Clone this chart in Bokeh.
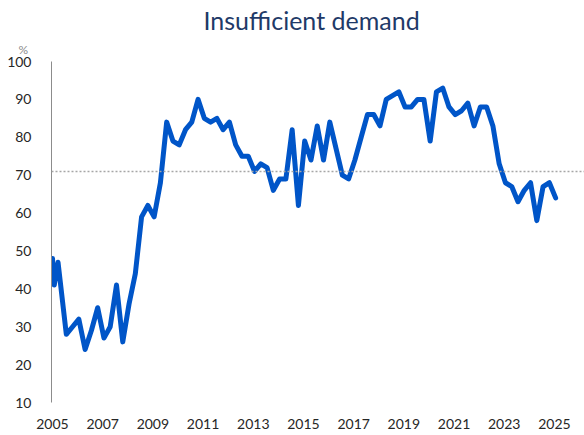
from bokeh.plotting import figure
from bokeh.models import Range1d, Span, Title, FixedTicker
from bokeh.embed import file_html
from bokeh.resources import INLINE

# --- data ---
title_text = "Insufficient demand"
unit_text = "%"
start_years = [2005.0, 2005.07, 2005.22]
start_values = [48, 41, 47]
quarterly_values = [
    28, 30, 32, 24, 29, 35, 27, 30, 41, 26, 36, 44, 59, 62, 59, 68,
    84, 79, 78, 82, 84, 90, 85, 84, 85, 82, 84, 78, 75, 75, 71, 73,
    72, 66, 69, 69, 82, 62, 79, 74, 83, 74, 84, 77, 70, 69, 74, 80,
    86, 86, 83, 90, 91, 92, 88, 88, 90, 90, 79, 92, 93, 88, 86, 87,
    89, 83, 88, 88, 83, 73, 68, 67, 63, 66, 68, 58, 67, 68, 64,
]
quarterly_start = 2005.55
reference_level = 71
x_ticks = [2005, 2007, 2009, 2011, 2013, 2015, 2017, 2019, 2021, 2023, 2025]
y_ticks = [10, 20, 30, 40, 50, 60, 70, 80, 90, 100]

quarter_years = [quarterly_start + 0.25 * i for i in range(len(quarterly_values))]
years = start_years + quarter_years
values = start_values + quarterly_values

p = figure(
    width=584, height=435,
    x_range=Range1d(2004.96, 2026.2), y_range=Range1d(10, 100),
    output_backend="svg", toolbar_location=None, title=None,
    min_border_left=51, min_border_right=0, min_border_top=61, min_border_bottom=33,
)
p.outline_line_color = None
p.grid.visible = False
p.background_fill_color = "white"
p.border_fill_color = "white"

# unit label (closest to the frame) and main title
p.add_layout(Title(text=unit_text, align="left", offset=-33, standoff=10,
                   text_font="Lato", text_font_size="12px",
                   text_font_style="normal", text_color="#8C8C8C"), "above")
p.add_layout(Title(text=title_text, align="left", offset=152, standoff=0,
                   text_font="Lato", text_font_size="25px",
                   text_font_style="normal", text_color="#1F3A68"), "above")

# axes
p.xaxis.ticker = FixedTicker(ticks=x_ticks)
p.xaxis.axis_line_color = None
p.xaxis.major_tick_line_color = None
p.xaxis.minor_tick_line_color = None
p.xaxis.major_label_text_font = "Lato"
p.xaxis.major_label_text_font_size = "14px"
p.xaxis.major_label_text_color = "#262626"
p.xaxis.major_label_standoff = 10

p.yaxis.ticker = FixedTicker(ticks=y_ticks)
p.yaxis.axis_line_color = "#8C8C8C"
p.yaxis.axis_line_width = 1
p.yaxis.major_tick_line_color = None
p.yaxis.minor_tick_line_color = None
p.yaxis.major_label_text_font = "Lato"
p.yaxis.major_label_text_font_size = "14px"
p.yaxis.major_label_text_color = "#262626"
p.yaxis.major_label_standoff = 14

# reference line
p.add_layout(Span(location=reference_level, dimension="width",
                  line_color="#A6A6A6", line_width=1.5, line_dash="2 2"))

# series
p.line(years, values, line_color="#0055C8", line_width=5,
       line_join="round", line_cap="round")

open("out.html", "w").write(file_html(p, INLINE))
